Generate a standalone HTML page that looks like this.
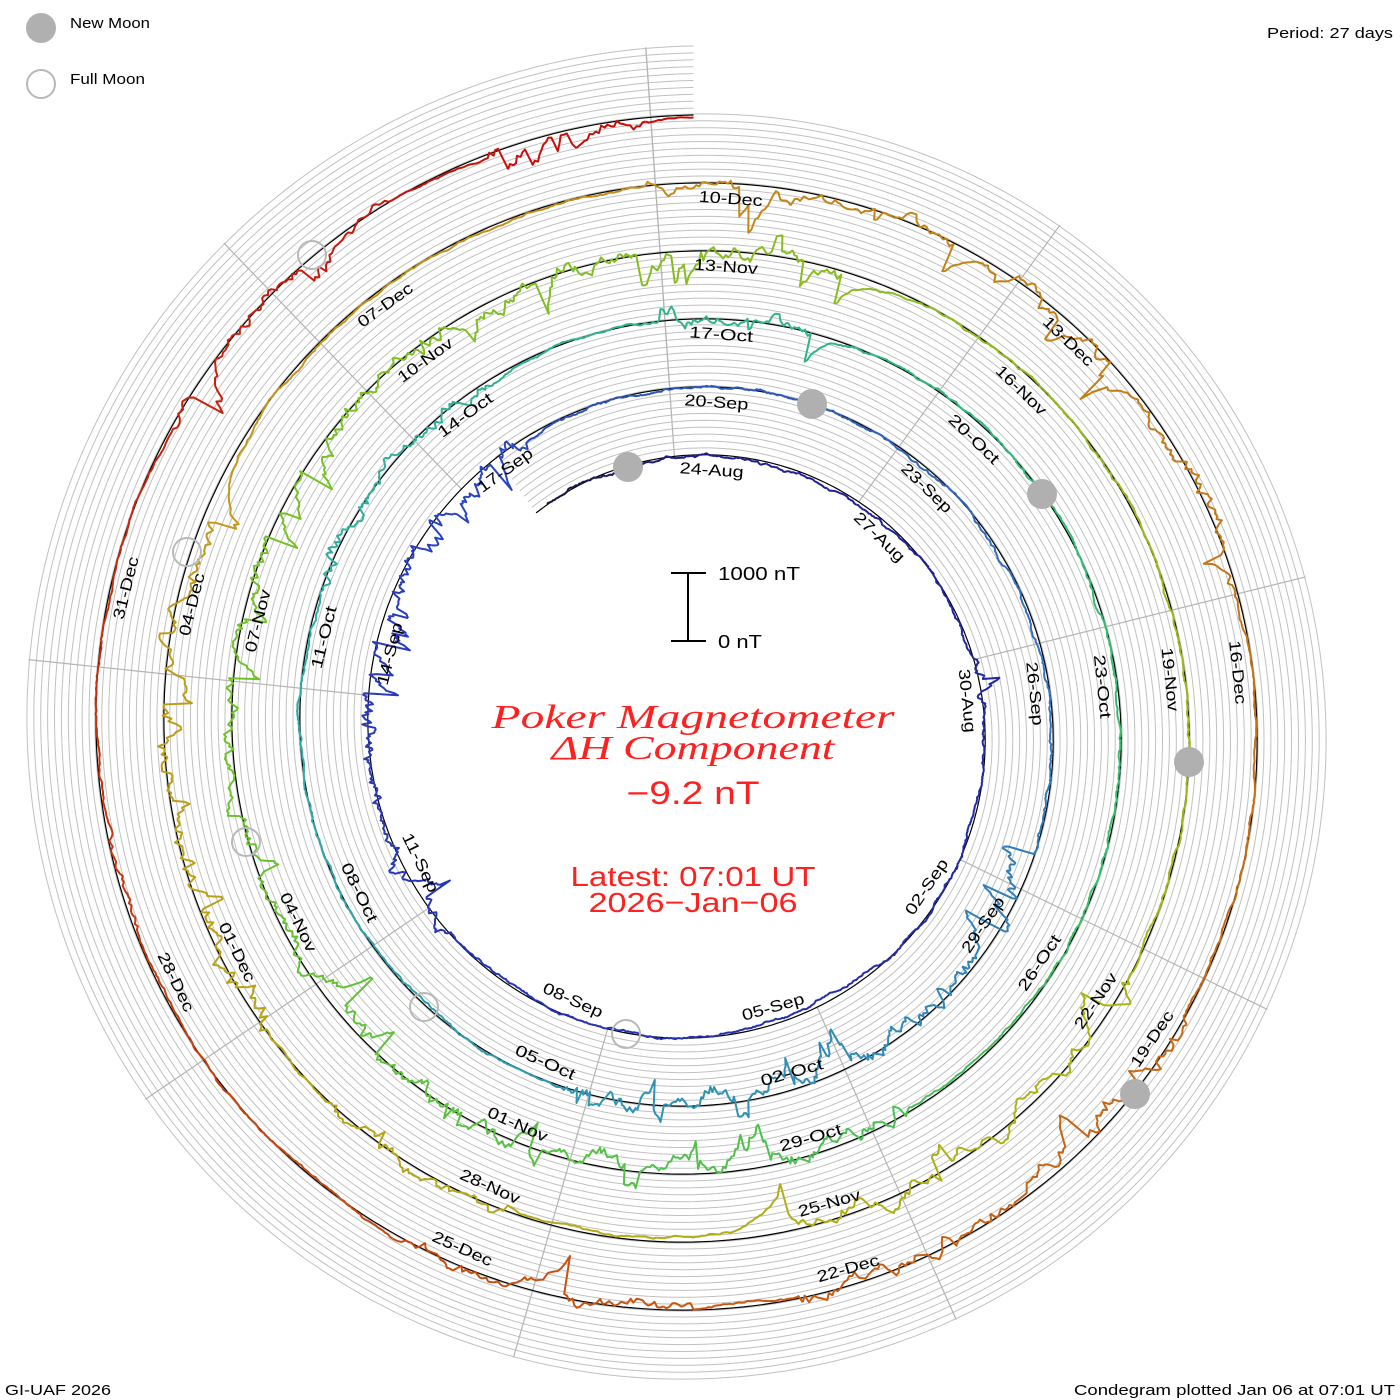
<!DOCTYPE html>
<html><head><meta charset="utf-8"><style>
html,body{margin:0;padding:0;background:#fff;}
svg{display:block;}
.l{font-family:"Liberation Sans",sans-serif;font-size:16px;fill:#000;}
</style></head><body>
<svg id="s" width="1400" height="1400" viewBox="0 0 1400 1400" xmlns="http://www.w3.org/2000/svg">
<g id="grid"></g>
<g id="rad" stroke="#b4b4b4" stroke-width="1.2"></g>
<g id="base" fill="none" stroke="#000" stroke-width="1.2"></g>
<g id="tr" fill="none" stroke-width="2" stroke-linejoin="round"></g>
<g transform="translate(693.5 729.5)" class="l" text-anchor="middle" dominant-baseline="central">
<text transform="rotate(-86) translate(259.3 0) rotate(90)" textLength="64" lengthAdjust="spacingAndGlyphs">24-Aug</text>
<text transform="rotate(-46) translate(266.8 0) rotate(90)" textLength="64" lengthAdjust="spacingAndGlyphs">27-Aug</text>
<text transform="rotate(-6) translate(274.4 0) rotate(90)" textLength="64" lengthAdjust="spacingAndGlyphs">30-Aug</text>
<text transform="rotate(34) translate(282 0) rotate(-90)" textLength="64" lengthAdjust="spacingAndGlyphs">02-Sep</text>
<text transform="rotate(74) translate(289.5 0) rotate(-90)" textLength="64" lengthAdjust="spacingAndGlyphs">05-Sep</text>
<text transform="rotate(114) translate(297.1 0) rotate(-90)" textLength="64" lengthAdjust="spacingAndGlyphs">08-Sep</text>
<text transform="rotate(154) translate(304.6 0) rotate(-90)" textLength="64" lengthAdjust="spacingAndGlyphs">11-Sep</text>
<text transform="rotate(-166) translate(312.2 0) rotate(90)" textLength="64" lengthAdjust="spacingAndGlyphs">14-Sep</text>
<text transform="rotate(-126) translate(319.7 0) rotate(90)" textLength="64" lengthAdjust="spacingAndGlyphs">17-Sep</text>
<text transform="rotate(-86) translate(327.3 0) rotate(90)" textLength="64" lengthAdjust="spacingAndGlyphs">20-Sep</text>
<text transform="rotate(-46) translate(334.9 0) rotate(90)" textLength="64" lengthAdjust="spacingAndGlyphs">23-Sep</text>
<text transform="rotate(-6) translate(342.4 0) rotate(90)" textLength="64" lengthAdjust="spacingAndGlyphs">26-Sep</text>
<text transform="rotate(34) translate(350 0) rotate(-90)" textLength="64" lengthAdjust="spacingAndGlyphs">29-Sep</text>
<text transform="rotate(74) translate(357.5 0) rotate(-90)" textLength="64" lengthAdjust="spacingAndGlyphs">02-Oct</text>
<text transform="rotate(114) translate(365.1 0) rotate(-90)" textLength="64" lengthAdjust="spacingAndGlyphs">05-Oct</text>
<text transform="rotate(154) translate(372.6 0) rotate(-90)" textLength="64" lengthAdjust="spacingAndGlyphs">08-Oct</text>
<text transform="rotate(-166) translate(380.2 0) rotate(90)" textLength="64" lengthAdjust="spacingAndGlyphs">11-Oct</text>
<text transform="rotate(-126) translate(387.7 0) rotate(90)" textLength="64" lengthAdjust="spacingAndGlyphs">14-Oct</text>
<text transform="rotate(-86) translate(395.3 0) rotate(90)" textLength="64" lengthAdjust="spacingAndGlyphs">17-Oct</text>
<text transform="rotate(-46) translate(402.9 0) rotate(90)" textLength="64" lengthAdjust="spacingAndGlyphs">20-Oct</text>
<text transform="rotate(-6) translate(410.4 0) rotate(90)" textLength="64" lengthAdjust="spacingAndGlyphs">23-Oct</text>
<text transform="rotate(34) translate(418 0) rotate(-90)" textLength="64" lengthAdjust="spacingAndGlyphs">26-Oct</text>
<text transform="rotate(74) translate(425.5 0) rotate(-90)" textLength="64" lengthAdjust="spacingAndGlyphs">29-Oct</text>
<text transform="rotate(114) translate(433.1 0) rotate(-90)" textLength="64" lengthAdjust="spacingAndGlyphs">01-Nov</text>
<text transform="rotate(154) translate(440.6 0) rotate(-90)" textLength="64" lengthAdjust="spacingAndGlyphs">04-Nov</text>
<text transform="rotate(-166) translate(448.2 0) rotate(90)" textLength="64" lengthAdjust="spacingAndGlyphs">07-Nov</text>
<text transform="rotate(-126) translate(455.8 0) rotate(90)" textLength="64" lengthAdjust="spacingAndGlyphs">10-Nov</text>
<text transform="rotate(-86) translate(463.3 0) rotate(90)" textLength="64" lengthAdjust="spacingAndGlyphs">13-Nov</text>
<text transform="rotate(-46) translate(470.9 0) rotate(90)" textLength="64" lengthAdjust="spacingAndGlyphs">16-Nov</text>
<text transform="rotate(-6) translate(478.4 0) rotate(90)" textLength="64" lengthAdjust="spacingAndGlyphs">19-Nov</text>
<text transform="rotate(34) translate(486 0) rotate(-90)" textLength="64" lengthAdjust="spacingAndGlyphs">22-Nov</text>
<text transform="rotate(74) translate(493.5 0) rotate(-90)" textLength="64" lengthAdjust="spacingAndGlyphs">25-Nov</text>
<text transform="rotate(114) translate(501.1 0) rotate(-90)" textLength="64" lengthAdjust="spacingAndGlyphs">28-Nov</text>
<text transform="rotate(154) translate(508.6 0) rotate(-90)" textLength="64" lengthAdjust="spacingAndGlyphs">01-Dec</text>
<text transform="rotate(-166) translate(516.2 0) rotate(90)" textLength="64" lengthAdjust="spacingAndGlyphs">04-Dec</text>
<text transform="rotate(-126) translate(523.8 0) rotate(90)" textLength="64" lengthAdjust="spacingAndGlyphs">07-Dec</text>
<text transform="rotate(-86) translate(531.3 0) rotate(90)" textLength="64" lengthAdjust="spacingAndGlyphs">10-Dec</text>
<text transform="rotate(-46) translate(538.9 0) rotate(90)" textLength="64" lengthAdjust="spacingAndGlyphs">13-Dec</text>
<text transform="rotate(-6) translate(546.4 0) rotate(90)" textLength="64" lengthAdjust="spacingAndGlyphs">16-Dec</text>
<text transform="rotate(34) translate(554 0) rotate(-90)" textLength="64" lengthAdjust="spacingAndGlyphs">19-Dec</text>
<text transform="rotate(74) translate(561.5 0) rotate(-90)" textLength="64" lengthAdjust="spacingAndGlyphs">22-Dec</text>
<text transform="rotate(114) translate(569.1 0) rotate(-90)" textLength="64" lengthAdjust="spacingAndGlyphs">25-Dec</text>
<text transform="rotate(154) translate(576.7 0) rotate(-90)" textLength="64" lengthAdjust="spacingAndGlyphs">28-Dec</text>
<text transform="rotate(-166) translate(584.2 0) rotate(90)" textLength="64" lengthAdjust="spacingAndGlyphs">31-Dec</text>
</g>
<g fill="#b0b0b0">
<circle cx="41" cy="28" r="15"/>
<circle cx="628" cy="467" r="15"/><circle cx="812" cy="404" r="15"/><circle cx="1042" cy="494" r="15"/><circle cx="1189" cy="762" r="15"/><circle cx="1135" cy="1094" r="15"/>
</g>
<g fill="none" stroke="#b8b8b8" stroke-width="2">
<circle cx="41" cy="84" r="14"/>
<circle cx="312" cy="255" r="14"/><circle cx="187" cy="552" r="14"/><circle cx="246" cy="842" r="14"/><circle cx="424" cy="1007" r="14"/><circle cx="626" cy="1034" r="14"/>
</g>
<g class="l" style="font-size:15px">
<text x="70" y="28" textLength="80" lengthAdjust="spacingAndGlyphs">New Moon</text>
<text x="70" y="84" textLength="75" lengthAdjust="spacingAndGlyphs">Full Moon</text>
<text x="1393" y="38" text-anchor="end" textLength="126" lengthAdjust="spacingAndGlyphs">Period: 27 days</text>
<text x="5" y="1395" textLength="106" lengthAdjust="spacingAndGlyphs">GI-UAF 2026</text>
<text x="1395" y="1395" text-anchor="end" textLength="321" lengthAdjust="spacingAndGlyphs">Condegram plotted Jan 06 at 07:01 UT</text>
</g>
<g stroke="#000" stroke-width="2"><line x1="688" y1="573" x2="688" y2="641"/><line x1="671" y1="573" x2="706" y2="573"/><line x1="671" y1="641" x2="706" y2="641"/></g>
<text class="l" x="718" y="580" style="font-size:18px" textLength="82" lengthAdjust="spacingAndGlyphs">1000 nT</text>
<text class="l" x="718" y="648" style="font-size:18px" textLength="44" lengthAdjust="spacingAndGlyphs">0 nT</text>
<g fill="#ff2020" text-anchor="middle">
<text x="693" y="728" font-family="Liberation Serif,serif" font-style="italic" font-size="34" textLength="403" lengthAdjust="spacingAndGlyphs">Poker Magnetometer</text>
<text x="693" y="759" font-family="Liberation Serif,serif" font-style="italic" font-size="34" textLength="283" lengthAdjust="spacingAndGlyphs">ΔH Component</text>
<text x="693" y="804" font-family="Liberation Sans,sans-serif" font-size="32" textLength="133" lengthAdjust="spacingAndGlyphs">−9.2 nT</text>
<text x="693" y="886" font-family="Liberation Sans,sans-serif" font-size="28" textLength="245" lengthAdjust="spacingAndGlyphs">Latest: 07:01 UT</text>
<text x="693" y="912" font-family="Liberation Sans,sans-serif" font-size="28" textLength="209" lengthAdjust="spacingAndGlyphs">2026−Jan−06</text>
</g>
</svg>
<script>
(function(){
var NS="http://www.w3.org/2000/svg",cx=693.5,cy=729.5;
var T0=-126,T1=1710;
function R(t){return 274.5+68*(t+90)/360;}
function P(t,r){var a=t*Math.PI/180;return [(cx+r*Math.cos(a)).toFixed(1),(cy+r*Math.sin(a)).toFixed(1)];}
function mk(par,d,attrs){var p=document.createElementNS(NS,"path");p.setAttribute("d",d);for(var k in attrs)p.setAttribute(k,attrs[k]);document.getElementById(par).appendChild(p);}
var j,t,d;
for(j=1;j<=10;j++){d="";for(t=T0;t<=T1;t+=1){var q=P(t,R(t)+6.9*j);d+=(d?"L":"M")+q[0]+" "+q[1];}
 mk("grid",d,{fill:"none",stroke:"#c0c0c0","stroke-width":"1"});}
d="";for(t=T0;t<=T1;t+=1){var q=P(t,R(t));d+=(d?"L":"M")+q[0]+" "+q[1];}
mk("base",d,{});
for(var k=0;k<10;k++){var a=-94+40*k;var t1=a;while(t1<T0)t1+=360;var t2=a;while(t2+360<=T1)t2+=360;
 var p1=P(a,R(t1)),p2=P(a,R(t2)+70);mk("rad","M"+p1[0]+" "+p1[1]+"L"+p2[0]+" "+p2[1],{});}
var seed=777;function rnd(){seed=(seed*1103515245+12345)%2147483648;return seed/2147483648;}
function g(){return (rnd()+rnd()+rnd()+rnd()-2)*1.2;}
var cols=[[0,[20,20,40]],[0.02,[30,30,150]],[0.18,[40,60,190]],[0.26,[50,115,190]],[0.36,[45,170,170]],[0.46,[50,190,110]],[0.56,[110,195,40]],[0.68,[170,180,20]],[0.78,[195,150,25]],[0.9,[200,90,15]],[1,[200,10,10]]];
function col(f){for(var i=1;i<cols.length;i++){if(f<=cols[i][0]){var a=cols[i-1],b=cols[i],u=(f-a[0])/(b[0]-a[0]);var c=[0,1,2].map(function(z){return Math.round(a[1][z]+(b[1][z]-a[1][z])*u);});return "rgb("+c.join(",")+")";}}return "rgb(200,10,10)";}
// activity windows [from,to,intensity]
var W=[[-15,-5,0.6],[140,175,0.6],[175,240,1],[380,470,1],[560,600,0.7],[625,650,0.7],[780,850,1],[850,950,0.8],[950,1010,1],[1110,1160,0.9],[1190,1215,0.7],[1225,1285,1],[1345,1425,0.7],[1470,1520,1],[1530,1560,0.8],[1600,1610,0.5],[1650,1680,0.6],[1690,1706,1]];
function act(t){for(var i=0;i<W.length;i++)if(t>=W[i][0]&&t<=W[i][1])return W[i][2];return 0;}
var dev=0,step=0.3,start=T0+3,seg=[],base=0;
for(t=start;t<=T1;t+=step){
 var A=act(t);
 base=base*0.995+g()*0.2;
 if(A>0){dev=dev*0.82+g()*5*A; if(rnd()<0.07*A)dev+=(rnd()-0.7)*50;}
 else {dev=dev*0.92+g()*0.7;}
 var v=dev+base;
 if(v>25)v=25;if(v<-48)v=-48;
 var q=P(t,R(t)+v);
 seg.push(q[0]+" "+q[1]);
 if(seg.length>=24){mk("tr","M"+seg.join("L"),{stroke:col((t-start)/(T1-start))});seg=[seg[seg.length-1]];}
}
if(seg.length>1)mk("tr","M"+seg.join("L"),{stroke:col(1)});
})();
</script>
</body></html>
